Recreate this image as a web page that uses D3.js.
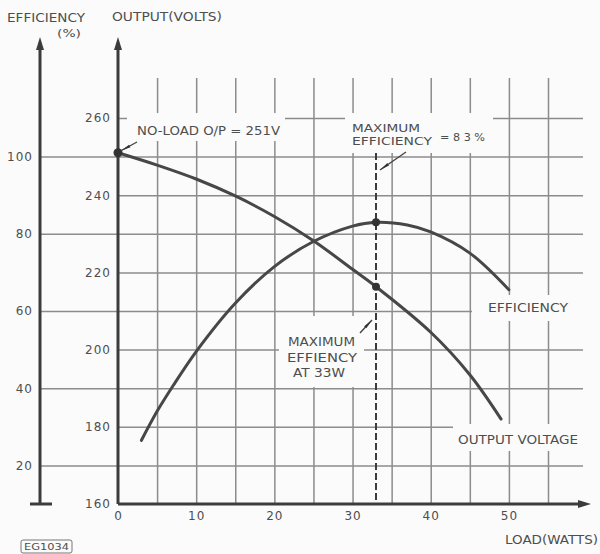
<!DOCTYPE html>
<html>
<head>
<meta charset="utf-8">
<script src="https://cdn.jsdelivr.net/npm/d3@7"></script>
<style>
  body { margin: 0; background: #fbfbfb; }
  svg { display: block; }
  text { font-family: "DejaVu Sans", sans-serif; fill: #4e4e4e; }
</style>
</head>
<body>
<svg id="chart" width="600" height="554"></svg>
<script>
// Axis ticks
const loadTicks = [0, 10, 20, 30, 40, 50];
const loadGrid = [5, 10, 15, 20, 25, 30, 35, 40, 45, 50, 55];
const voltTicks = [160, 180, 200, 220, 240, 260];
const voltGrid = [180, 200, 220, 240, 260];
const effTicks = [20, 40, 60, 80, 100];

// Output voltage against load
const voltLoad = [0, 5, 10, 15, 20, 25, 30, 33, 40, 45, 49];
const voltValues = [251, 247.8, 244.2, 239.8, 234.5, 228.2, 220.8, 216.3, 204.5, 193.5, 182];

// Efficiency against load
const effLoad = [3, 5, 7, 10, 15, 20, 25, 30, 33, 37, 40, 45, 50];
const effValues = [26.5, 34, 40.5, 49.5, 62, 71.5, 78, 82, 83, 82.3, 80.5, 75, 65.5];

// Key operating figures
const noLoadVolts = 251;
const maxEffLoad = 33;
const maxEff = 83;

const svg = d3.select("#chart");
const ink = "#3c3c3c";
const gridInk = "#8c8c8c";

const x = d3.scaleLinear().domain([0, 55]).range([118, 548]);
const yV = d3.scaleLinear().domain([160, 260]).range([504, 118]);
const yE = d3.scaleLinear().domain([10, 110]).range([504, 118]); // 100 % sits level with 250 V

const gridRight = 583, gridTop = 78;

// ---- grid ----
const gGrid = svg.append("g");
gGrid.append("g").attr("transform", `translate(0,${yV(160)})`)
  .call(d3.axisBottom(x).tickValues(loadGrid).tickSize(-(yV(160) - gridTop)).tickFormat(""));
gGrid.append("g").attr("transform", `translate(${x(0)},0)`)
  .call(d3.axisLeft(yV).tickValues(voltGrid).tickSize(-(gridRight - x(0))).tickFormat(""));
gGrid.append("g").attr("transform", "translate(40,0)")
  .call(d3.axisLeft(yE).tickValues(effTicks).tickSize(-(gridRight - 40)).tickFormat(""));
gGrid.selectAll(".domain").remove();
gGrid.selectAll(".tick line").attr("stroke", gridInk).attr("stroke-width", 1.5);

// clear space in the grid behind the lettering
const clears = [
  [127, 113, 158, 28], [345, 113, 148, 40], [472, 295, 112, 26],
  [453, 424, 131, 27], [279, 316, 85, 71]
];
svg.append("g").selectAll("rect").data(clears).join("rect")
  .attr("x", d => d[0]).attr("y", d => d[1]).attr("width", d => d[2]).attr("height", d => d[3])
  .attr("fill", "#fbfbfb");

// ---- tick labels ----
const lab = svg.append("g");
lab.append("g").attr("transform", `translate(${x(0)},0)`)
  .call(d3.axisLeft(yV).tickValues(voltTicks).tickSize(0).tickPadding(7));
lab.append("g").attr("transform", "translate(40,0)")
  .call(d3.axisLeft(yE).tickValues(effTicks).tickSize(0).tickPadding(7));
lab.append("g").attr("transform", `translate(0,${yV(160)})`)
  .call(d3.axisBottom(x).tickValues(loadTicks).tickSize(0).tickPadding(7));
lab.selectAll(".domain").remove();
lab.selectAll("text").attr("font-family", "DejaVu Sans, sans-serif").attr("font-size", 12)
  .attr("letter-spacing", 1).attr("fill", "#4e4e4e");

// ---- axes ----
const ax = svg.append("g").attr("stroke", ink).attr("stroke-width", 3).attr("fill", "none");
ax.append("line").attr("x1", 40).attr("x2", 40).attr("y1", 48).attr("y2", yV(160));
ax.append("line").attr("x1", 30).attr("x2", 52).attr("y1", yV(160)).attr("y2", yV(160));
ax.append("line").attr("x1", x(0)).attr("x2", x(0)).attr("y1", 48).attr("y2", yV(160));
ax.append("line").attr("x1", x(0)).attr("x2", 580).attr("y1", yV(160)).attr("y2", yV(160));
const heads = svg.append("g").attr("fill", ink);
heads.append("path").attr("d", "M40,37 L36,50 L44,50 Z");
heads.append("path").attr("d", `M${x(0)},37 L${x(0) - 4},50 L${x(0) + 4},50 Z`);
heads.append("path").attr("d", `M591,${yV(160)} L578,${yV(160) - 4} L578,${yV(160) + 4} Z`);

// ---- curves ----
const voltPts = voltLoad.map((w, i) => [w, voltValues[i]]);
const effPts = effLoad.map((w, i) => [w, effValues[i]]);
const curves = svg.append("g").attr("fill", "none").attr("stroke", "#474747")
  .attr("stroke-width", 3).attr("stroke-linecap", "round");
curves.append("path").datum(voltPts)
  .attr("d", d3.line().x(d => x(d[0])).y(d => yV(d[1])).curve(d3.curveCatmullRom));
curves.append("path").datum(effPts)
  .attr("d", d3.line().x(d => x(d[0])).y(d => yE(d[1])).curve(d3.curveCatmullRom));

// dashed marker at maximum efficiency
svg.append("line")
  .attr("x1", x(maxEffLoad)).attr("x2", x(maxEffLoad))
  .attr("y1", 153).attr("y2", yV(160))
  .attr("stroke", ink).attr("stroke-width", 2).attr("stroke-dasharray", "7,3");

// points
const voltAtMax = voltValues[voltLoad.indexOf(maxEffLoad)];
const dots = svg.append("g").attr("fill", "#333");
dots.append("circle").attr("cx", x(0)).attr("cy", yV(noLoadVolts)).attr("r", 4.5);
dots.append("circle").attr("cx", x(maxEffLoad)).attr("cy", yE(maxEff)).attr("r", 4);
dots.append("circle").attr("cx", x(maxEffLoad)).attr("cy", yV(voltAtMax)).attr("r", 4);

// ---- pointer arrows ----
svg.append("defs").append("marker")
  .attr("id", "dart").attr("viewBox", "0 0 12 6").attr("refX", 12).attr("refY", 3)
  .attr("markerWidth", 10).attr("markerHeight", 5).attr("markerUnits", "userSpaceOnUse")
  .attr("orient", "auto")
  .append("path").attr("d", "M0,1.2 L12,3 L0,4.8 Z").attr("fill", "#333");
const pointers = [
  [137, 142, x(0) + 3, yV(noLoadVolts) - 2],
  [406, 152, x(maxEffLoad) + 4, 170],
  [360, 333, x(maxEffLoad) - 4, 320]
];
svg.append("g").selectAll("line").data(pointers).join("line")
  .attr("x1", d => d[0]).attr("y1", d => d[1]).attr("x2", d => d[2]).attr("y2", d => d[3])
  .attr("stroke", "#444").attr("stroke-width", 1.4).attr("marker-end", "url(#dart)");

// ---- lettering ----
function word(tx, cy, str, len, size) {
  svg.append("text")
    .attr("x", tx).attr("y", cy).attr("dominant-baseline", "central")
    .attr("font-size", size || 12)
    .attr("textLength", len).attr("lengthAdjust", "spacingAndGlyphs")
    .text(str);
}
word(7, 18, "EFFICIENCY", 78);
word(57, 33, "(%)", 24, 11);
word(112, 17, "OUTPUT(VOLTS)", 110);
word(137, 131, "NO-LOAD O/P = 251V", 143);
word(352, 128.5, "MAXIMUM", 68, 11);
word(352, 141.5, "EFFICIENCY", 80, 11);
word(440, 137, "= 8 3 %", 45, 11);
word(288, 342, "MAXIMUM", 67);
word(287, 358, "EFFIENCY", 70);
word(293, 373, "AT 33W", 52);
word(488, 308, "EFFICIENCY", 80);
word(458, 440, "OUTPUT VOLTAGE", 120);
word(505, 540, "LOAD(WATTS)", 93);

svg.append("rect").attr("x", 21).attr("y", 540).attr("width", 51).attr("height", 13).attr("rx", 2)
  .attr("fill", "none").attr("stroke", "#777").attr("stroke-width", 1);
word(24, 547, "EG1034", 45, 9);
</script>
</body>
</html>
